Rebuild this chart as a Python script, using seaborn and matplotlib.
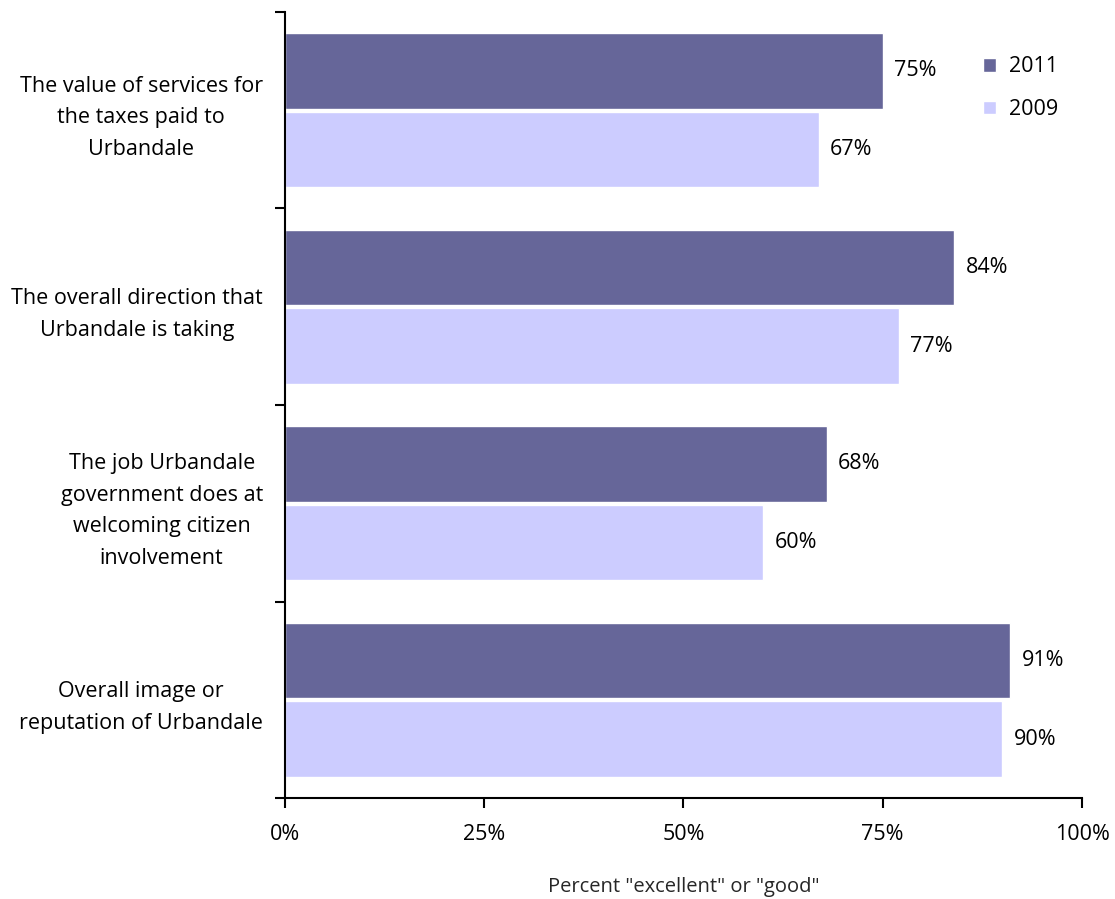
import numpy as np
import pandas as pd
import matplotlib
matplotlib.use("Agg")
import matplotlib.pyplot as plt
import seaborn as sns
from matplotlib.ticker import FixedLocator, PercentFormatter

# data
categories = [
    "The value of services for\nthe taxes paid to\nUrbandale",
    "The overall direction that\nUrbandale is taking",
    "The job Urbandale\ngovernment does at\nwelcoming citizen\ninvolvement",
    "Overall image or\nreputation of Urbandale",
]
years = ["2011", "2009"]
values_2011 = [75, 84, 68, 91]
values_2009 = [67, 77, 60, 90]
palette = {"2011": "#666699", "2009": "#CCCCFF"}

df = pd.DataFrame({
    "category": categories * 2,
    "year": ["2011"] * 4 + ["2009"] * 4,
    "value": values_2011 + values_2009,
})

sns.set_style("white")
plt.rcParams["font.family"] = ["Open Sans", "DejaVu Sans"]
plt.rcParams["text.color"] = "black"
plt.rcParams["xtick.color"] = "black"
plt.rcParams["ytick.color"] = "black"

FS = 15.5

fig = plt.figure(figsize=(11.15, 8.99), dpi=100)
ax = fig.add_axes([0.2556, 0.1123, 0.9704 - 0.2556, 0.9867 - 0.1123])

sns.barplot(data=df, y="category", x="value", hue="year", hue_order=years,
            palette=palette, orient="h", width=0.8, gap=0.035,
            saturation=1, ax=ax, legend=True)

for cont in ax.containers:
    ax.bar_label(cont, fmt="%d%%", padding=8, fontsize=FS, color="black")

ax.set_xlim(0, 100)
ax.set_ylim(len(categories) - 0.5, -0.5)
ax.xaxis.set_major_locator(FixedLocator([0, 25, 50, 75, 100]))
ax.xaxis.set_major_formatter(PercentFormatter(decimals=0))
ax.tick_params(axis="x", which="major", direction="out", length=7, width=1.5,
               pad=12, labelsize=FS, bottom=True)

ax.set_yticks(range(len(categories)))
ax.set_yticklabels(categories, fontsize=FS, multialignment="center",
                   linespacing=1.65)
ax.tick_params(axis="y", which="major", length=0, pad=16)
ax.yaxis.set_minor_locator(FixedLocator(np.arange(-0.5, len(categories), 1)))
ax.tick_params(axis="y", which="minor", direction="out", length=7, width=1.5,
               left=True)

for side in ["top", "right"]:
    ax.spines[side].set_visible(False)
for side in ["left", "bottom"]:
    ax.spines[side].set_linewidth(1.5)
    ax.spines[side].set_color("black")

ax.set_ylabel("")
ax.set_xlabel('Percent "excellent" or "good"', fontsize=14.5)
ax.xaxis.set_label_coords(0.5, -0.1)

leg = ax.legend(loc="upper right", bbox_to_anchor=(0.994, 0.968), frameon=False,
                fontsize=FS, handlelength=0.6, handleheight=0.6,
                handletextpad=0.6, labelspacing=1.0)

fig.savefig("out.png", dpi=100)
